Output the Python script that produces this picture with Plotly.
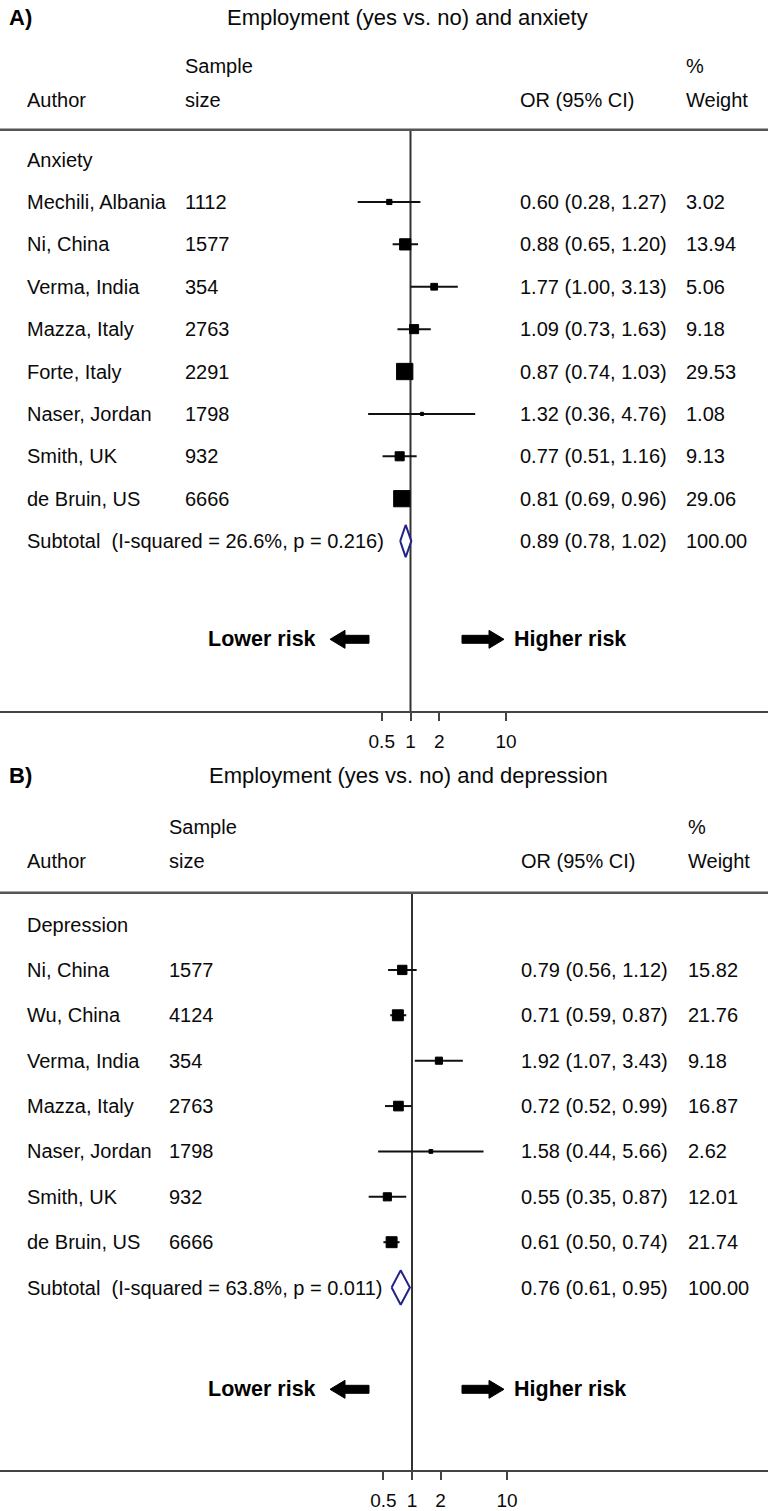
import math
import plotly.graph_objects as go

# ---------------- data ----------------
A_authors = ["Mechili, Albania", "Ni, China", "Verma, India", "Mazza, Italy",
             "Forte, Italy", "Naser, Jordan", "Smith, UK", "de Bruin, US"]
A_n = [1112, 1577, 354, 2763, 2291, 1798, 932, 6666]
A_or = [0.60, 0.88, 1.77, 1.09, 0.87, 1.32, 0.77, 0.81]
A_lo = [0.28, 0.65, 1.00, 0.73, 0.74, 0.36, 0.51, 0.69]
A_hi = [1.27, 1.20, 3.13, 1.63, 1.03, 4.76, 1.16, 0.96]
A_w = [3.02, 13.94, 5.06, 9.18, 29.53, 1.08, 9.13, 29.06]
A_sub = [0.89, 0.78, 1.02]
A_sub_w = 100.00
A_i2, A_p = 26.6, 0.216

B_authors = ["Ni, China", "Wu, China", "Verma, India", "Mazza, Italy",
             "Naser, Jordan", "Smith, UK", "de Bruin, US"]
B_n = [1577, 4124, 354, 2763, 1798, 932, 6666]
B_or = [0.79, 0.71, 1.92, 0.72, 1.58, 0.55, 0.61]
B_lo = [0.56, 0.59, 1.07, 0.52, 0.44, 0.35, 0.50]
B_hi = [1.12, 0.87, 3.43, 0.99, 5.66, 0.87, 0.74]
B_w = [15.82, 21.76, 9.18, 16.87, 2.62, 12.01, 21.74]
B_sub = [0.76, 0.61, 0.95]
B_sub_w = 100.00
B_i2, B_p = 63.8, 0.011

null_value = 1
tick_vals = [0.5, 1, 2, 10]
tick_text = ["0.5", "1", "2", "10"]

W, H = 768, 1511
FONT = "Liberation Sans, Arial, Helvetica, sans-serif"
TXT = "#0a0a0a"
DIA = "#22228a"


def px(x):
    return x / W


def py(y):
    return 1 - y / H


fig = go.Figure()
annotations = []
shapes = []

panels = [
    dict(label="A)", title="Employment (yes vs. no) and anxiety", group="Anxiety",
         authors=A_authors, n=A_n, orv=A_or, lo=A_lo, hi=A_hi, w=A_w,
         sub=A_sub, sub_w=A_sub_w, i2=A_i2, p=A_p,
         xa="x", ya="y", xname="xaxis", yname="yaxis",
         top=130, bottom=713, row0=160, step=42.5, arrow_y=641,
         null_px=410.5, dec_px=95.5, title_y=18, title_x=225,
         hdr1=66, hdr2=100, col_n=183, col_or=518, col_w=684, k=3.0),
    dict(label="B)", title="Employment (yes vs. no) and depression", group="Depression",
         authors=B_authors, n=B_n, orv=B_or, lo=B_lo, hi=B_hi, w=B_w,
         sub=B_sub, sub_w=B_sub_w, i2=B_i2, p=B_p,
         xa="x2", ya="y2", xname="xaxis2", yname="yaxis2",
         top=895, bottom=1474, row0=927, step=45.5, arrow_y=1393,
         null_px=412, dec_px=95, title_y=778, title_x=207,
         hdr1=829, hdr2=863, col_n=167, col_or=519, col_w=686, k=2.35),
]

layout_axes = {}
for P in panels:
    nrow = len(P["authors"])
    sub_idx = nrow + 1
    rows = list(range(1, nrow + 1))

    lo_log = -P["null_px"] / P["dec_px"]
    hi_log = (W - P["null_px"]) / P["dec_px"]
    y_top = (P["top"] - P["row0"]) / P["step"]
    y_bot = (P["bottom"] - P["row0"]) / P["step"]

    # null line
    fig.add_trace(go.Scatter(x=[null_value, null_value], y=[y_top, y_bot], mode="lines",
                             xaxis=P["xa"], yaxis=P["ya"], cliponaxis=False,
                             line=dict(color="#333333", width=2), showlegend=False,
                             hoverinfo="skip"))
    # CI lines
    xs, ys = [], []
    for i, (l, h) in enumerate(zip(P["lo"], P["hi"])):
        xs += [l, h, None]
        ys += [rows[i], rows[i], None]
    fig.add_trace(go.Scatter(x=xs, y=ys, mode="lines", xaxis=P["xa"], yaxis=P["ya"],
                             line=dict(color="#111111", width=2), showlegend=False,
                             hoverinfo="skip"))
    # weighted squares
    fig.add_trace(go.Scatter(x=P["orv"], y=rows, mode="markers", xaxis=P["xa"], yaxis=P["ya"],
                             opacity=1,
                             marker=dict(symbol="square", color="#000000", opacity=1,
                                         size=[P["k"] * math.sqrt(v) for v in P["w"]],
                                         line=dict(width=1, color="#000000")),
                             showlegend=False))
    # subtotal diamond
    s_or, s_lo, s_hi = P["sub"]
    hgt = 0.38
    fig.add_trace(go.Scatter(x=[s_lo, s_or, s_hi, s_or, s_lo],
                             y=[sub_idx, sub_idx - hgt, sub_idx, sub_idx + hgt, sub_idx],
                             mode="lines", fill="toself", fillcolor="white",
                             line=dict(color=DIA, width=2), xaxis=P["xa"], yaxis=P["ya"],
                             showlegend=False))

    # axes
    layout_axes[P["xname"]] = dict(
        type="log", range=[lo_log, hi_log], domain=[0, 1], anchor=P["ya"],
        showline=True, linecolor="#444444", linewidth=2, ticks="outside",
        ticklen=8, tickwidth=2, tickcolor="#444444", tickvals=tick_vals,
        ticktext=tick_text, showgrid=False, zeroline=False,
        tickfont=dict(family=FONT, size=19, color=TXT), ticklabelstandoff=4)
    layout_axes[P["yname"]] = dict(
        range=[y_bot, y_top], domain=[py(P["bottom"]), py(P["top"])],
        anchor=P["xa"], visible=False, showgrid=False, zeroline=False)

    # header separator
    shapes.append(dict(type="line", xref="paper", x0=0, x1=1,
                       yref="paper", y0=py(P["top"]), y1=py(P["top"]),
                       line=dict(color="#555555", width=2.5)))

    def ann(text, x, y, yref="paper", size=20, bold=False, anchor="left", color=TXT):
        annotations.append(dict(
            text=("<b>%s</b>" % text) if bold else text, x=px(x), y=y, xref="paper",
            yref=yref, xanchor=anchor, yanchor="middle", showarrow=False,
            font=dict(family=FONT, size=size, color=color)))

    # title + headers
    ann(P["label"], 7, py(P["title_y"]), size=22, bold=True, color="#000")
    ann(P["title"], P["title_x"], py(P["title_y"]), size=22)
    ann("Sample", P["col_n"], py(P["hdr1"]))
    ann("%", P["col_w"], py(P["hdr1"]))
    ann("Author", 25, py(P["hdr2"]))
    ann("size", P["col_n"], py(P["hdr2"]))
    ann("OR (95% CI)", P["col_or"], py(P["hdr2"]))
    ann("Weight", P["col_w"], py(P["hdr2"]))

    # rows
    ann(P["group"], 25, 0, yref=P["ya"])
    for i, a in enumerate(P["authors"]):
        r = rows[i]
        ann(a, 25, r, yref=P["ya"])
        ann(str(P["n"][i]), P["col_n"], r, yref=P["ya"])
        ann("%.2f (%.2f, %.2f)" % (P["orv"][i], P["lo"][i], P["hi"][i]),
            P["col_or"], r, yref=P["ya"])
        ann("%.2f" % P["w"][i], P["col_w"], r, yref=P["ya"])
    ann("Subtotal\u00a0\u00a0(I-squared = %.1f%%, p = %.3f)" % (P["i2"], P["p"]),
        25, sub_idx, yref=P["ya"])
    ann("%.2f (%.2f, %.2f)" % (s_or, s_lo, s_hi), P["col_or"], sub_idx, yref=P["ya"])
    ann("%.2f" % P["sub_w"], P["col_w"], sub_idx, yref=P["ya"])

    # risk labels and arrows
    ay = P["arrow_y"]
    ann("Lower risk", 318, py(ay), size=21.5, bold=True, anchor="right", color="#000")
    ann("Higher risk", 512, py(ay), size=21.5, bold=True, anchor="left", color="#000")

    def arrow(x_tail, x_tip, yc):
        d = 1 if x_tip > x_tail else -1
        head = 15
        xn = x_tip - d * head
        pts = [(x_tail, yc - 4), (xn, yc - 4), (xn, yc - 9), (x_tip, yc),
               (xn, yc + 9), (xn, yc + 4), (x_tail, yc + 4)]
        path = "M " + " L ".join("%.5f,%.5f" % (px(a), py(b)) for a, b in pts) + " Z"
        shapes.append(dict(type="path", xref="paper", yref="paper", path=path,
                           fillcolor="#000000", line=dict(color="#000000", width=1)))

    arrow(369, 330, ay)
    arrow(462, 504, ay)

fig.update_layout(
    width=W, height=H, margin=dict(l=0, r=0, t=0, b=0),
    paper_bgcolor="white", plot_bgcolor="white", showlegend=False,
    hovermode=False,
    annotations=annotations, shapes=shapes, **layout_axes)

fig.write_html("out.html", config={"displayModeBar": False, "staticPlot": True},
               post_script="document.body.style.margin='0px';")
